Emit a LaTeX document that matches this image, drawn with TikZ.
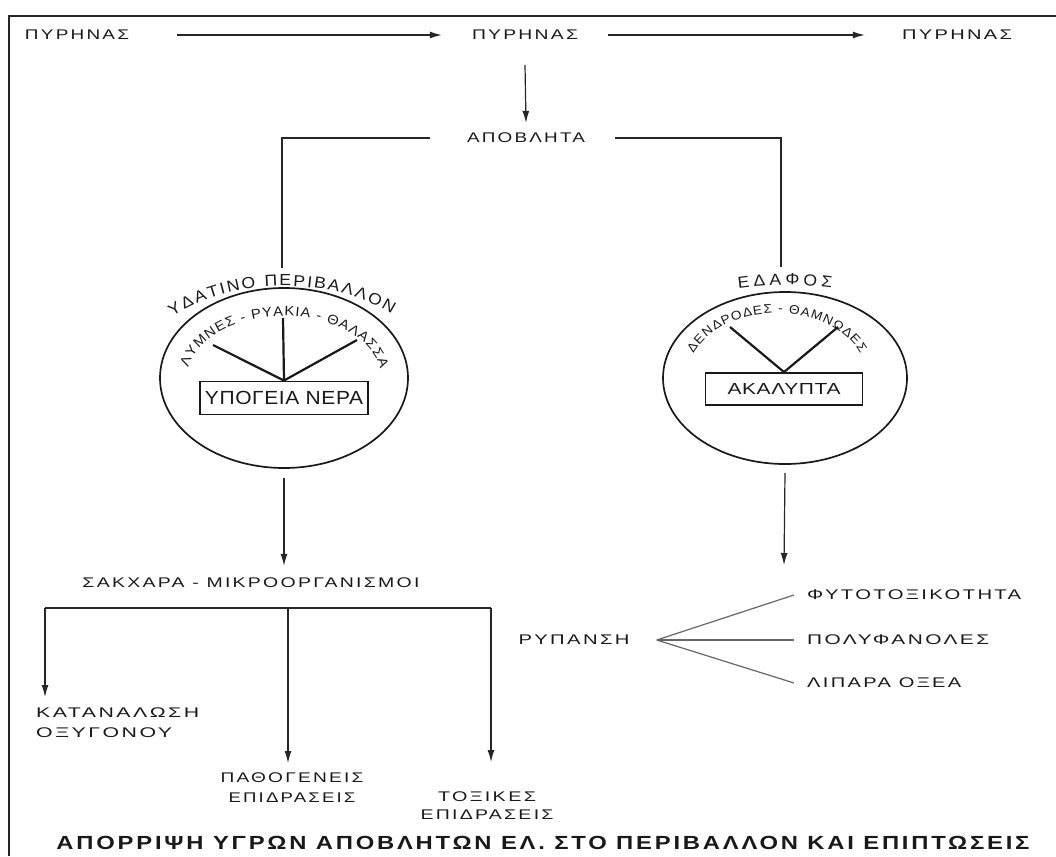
\documentclass[tikz,border=0pt]{standalone}
\usepackage{fontspec}
\usepackage{graphicx}
\setmainfont{Liberation Sans}[LetterSpace=14, FakeStretch=1.2]
\newfontfamily\arcfam{Liberation Sans}[FakeStretch=1.1]
\newfontfamily\boxfam{Liberation Sans}[FakeStretch=1.1, LetterSpace=3]
\usetikzlibrary{arrows.meta,shapes.geometric,decorations.text,calc}
\newcommand\fw[2]{\resizebox{#1}{\height}{#2}}
\newcommand\arcA{\arcfam\fontsize{16}{16}\selectfont}
\newcommand\arcB{\arcfam\fontsize{13.5}{13.5}\selectfont}
\newcommand\arcC{\arcfam\fontsize{12.5}{12.5}\selectfont}
\tikzset{
  lbl/.style={inner sep=0pt, font=\fontsize{14}{20}\selectfont, text=black!90},
  ln/.style={line width=1.2pt, draw=black!85},
  arr/.style={ln, -{Latex[length=12pt,width=7pt]}},
  ell/.style={ellipse, draw=black!90, line width=1.7pt, inner sep=0pt},
  bx/.style={draw=black!90, line width=1.9pt, inner sep=0pt, text=black!90},
  vln/.style={line width=2.2pt, draw=black!90},
  fan/.style={line width=1.2pt, draw=black!60},
  frame/.style={line width=1.3pt, draw=black!85},
}
\begin{document}
\begin{tikzpicture}[x=1pt,y=1pt]
\useasboundingbox (0,0) rectangle (1056,-856);
% frame
\coordinate (fBL) at (9,-856);
\coordinate (fTL) at (9,-16);
\coordinate (fTR) at (1056,-16);
\draw[frame] (fBL) -- (fTL) -- (fTR);

% top row
\node[lbl] (p1) at (77,-35) {\fw{104pt}{ΠΥΡΗΝΑΣ}};
\node[lbl] (p2) at (525,-35) {\fw{106pt}{ΠΥΡΗΝΑΣ}};
\node[lbl] (p3) at (957,-35) {\fw{110pt}{ΠΥΡΗΝΑΣ}};
\draw[arr] ([xshift=48pt]p1.east) -- ([xshift=-30pt]p2.west);
\draw[arr] ([xshift=30pt]p2.east) -- ([xshift=-37pt]p3.west);

\node[lbl] (apob) at (526,-138) {\fw{118pt}{ΑΠΟΒΛΗΤΑ}};
\draw[arr] ([yshift=-25pt]p2.south) -- ([yshift=10pt]apob.north);

\coordinate (wTop) at (282,-268);
\coordinate (sTop) at (781,-267);
\draw[ln] ([xshift=-37pt]apob.west) -| (wTop);
\draw[ln] ([xshift=30pt]apob.east) -| (sTop);

% left ellipse
\node[ell, minimum width=248pt, minimum height=180pt] (W) at (284,-378) {};
\path[decorate, decoration={text along path, text color=black!90,
   text={|\arcA|ΥΔΑΤΙΝΟ ΠΕΡΙΒΑΛΛΟΝ}, text align={fit to path}}]
   ([shift={(138:150pt and 92pt)}]284,-378) arc[start angle=138, end angle=44, x radius=150pt, y radius=92pt];
\path[decorate, decoration={text along path, text color=black!90,
   text={|\arcB|ΛΥΜΝΕΣ - ΡΥΑΚΙΑ - ΘΑΛΑΣΣΑ}, text align={fit to path}}]
   ([shift={(170:97pt and 62pt)}]284,-378) arc[start angle=170, end angle=8, x radius=97pt, y radius=62pt];
\node[bx, minimum width=168pt, minimum height=33pt] (wbox) at (284,-398)
   {\boxfam\fontsize{19}{19}\selectfont\fw{158pt}{ΥΠΟΓΕΙΑ ΝΕΡΑ}};
\coordinate (wv0) at (283,-318);
\coordinate (wv1) at (213,-345);
\coordinate (wv2) at (357,-340);
\draw[vln] (wv0) -- (wbox.north);
\draw[vln] (wv1) -- (wbox.north) -- (wv2);

% right ellipse
\node[ell, minimum width=244pt, minimum height=172pt] (S) at (785,-378) {};
\path[decorate, decoration={text along path, text color=black!90,
   text={|\arcA|ΕΔΑΦΟΣ}, text align={fit to path}}]
   ([shift={(105:180pt and 93pt)}]785,-378) arc[start angle=105, end angle=75, x radius=180pt, y radius=93pt];
\path[decorate, decoration={text along path, text color=black!90,
   text={|\arcC|ΔΕΝΔΡΟΔΕΣ - ΘΑΜΝΩΔΕΣ}, text align={fit to path}}]
   ([shift={(158:90pt and 65pt)}]777,-378) arc[start angle=158, end angle=22, x radius=90pt, y radius=65pt];
\node[bx, minimum width=157pt, minimum height=32pt] (sbox) at (784,-389)
   {\boxfam\fontsize{16}{16}\selectfont\fw{113pt}{ΑΚΑΛΥΠΤΑ}};
\coordinate (sv1) at (730,-327);
\coordinate (sv2) at (838,-327);
\draw[vln] (sv1) -- (sbox.north) -- (sv2);

% left branch
\node[lbl] (sak) at (251,-583) {\fw{337pt}{ΣΑΚΧΑΡΑ - ΜΙΚΡΟΟΡΓΑΝΙΣΜΟΙ}};
\draw[arr] ([yshift=-9pt]W.south) -- ([yshift=12pt]sak.north -| W.south);
\coordinate (bL) at (45,-608);
\coordinate (bM) at (288,-608);
\coordinate (bR) at (491,-608);
\draw[ln] (bL) -- (bR);
\node[lbl, align=left, anchor=north west] (kat) at (36,-708)
   {\fw{163pt}{ΚΑΤΑΝΑΛΩΣΗ}\\\fw{136pt}{ΟΞΥΓΟΝΟΥ}};
\node[lbl, align=center, anchor=north] (pat) at (292,-773)
   {\fw{143pt}{ΠΑΘΟΓΕΝΕΙΣ}\\\fw{127pt}{ΕΠΙΔΡΑΣΕΙΣ}};
\node[lbl, align=center, anchor=north, font=\fontsize{14}{18}\selectfont] (tox) at (487,-792)
   {\fw{98pt}{ΤΟΞΙΚΕΣ}\\\fw{133pt}{ΕΠΙΔΡΑΣΕΙΣ}};
\draw[arr] (bL) -- ([yshift=11pt]kat.north west -| bL);
\draw[arr] (bM) -- ([yshift=10pt]pat.north -| bM);
\draw[arr] (bR) -- ([yshift=30pt]tox.north -| bR);

% right branch
\coordinate (sEnd) at (784,-565);
\draw[arr] ([yshift=-8pt]S.south) -- (sEnd);
\node[lbl] (ryp) at (574,-640) {\fw{111pt}{ΡΥΠΑΝΣΗ}};
\node[lbl, anchor=west] (fy) at (807,-595) {\fw{214pt}{ΦΥΤΟΤΟΞΙΚΟΤΗΤΑ}};
\node[lbl, anchor=west] (pol) at (807,-640) {\fw{182pt}{ΠΟΛΥΦΑΝΟΛΕΣ}};
\node[lbl, anchor=west] (lip) at (807,-683) {\fw{154pt}{ΛΙΠΑΡΑ ΟΞΕΑ}};
\coordinate (fo) at ([xshift=27pt]ryp.east);
\draw[fan] (fo) -- ([xshift=-13pt]fy.west);
\draw[fan] (fo) -- ([xshift=-13pt]pol.west);
\draw[fan] (fo) -- ([xshift=-13pt]lip.west);

% title
\node[lbl, font=\fontsize{19}{20}\selectfont\bfseries] (title) at (543,-843)
   {\fw{973pt}{ΑΠΟΡΡΙΨΗ ΥΓΡΩΝ ΑΠΟΒΛΗΤΩΝ ΕΛ. ΣΤΟ ΠΕΡΙΒΑΛΛΟΝ ΚΑΙ ΕΠΙΠΤΩΣΕΙΣ}};
\end{tikzpicture}
\end{document}
